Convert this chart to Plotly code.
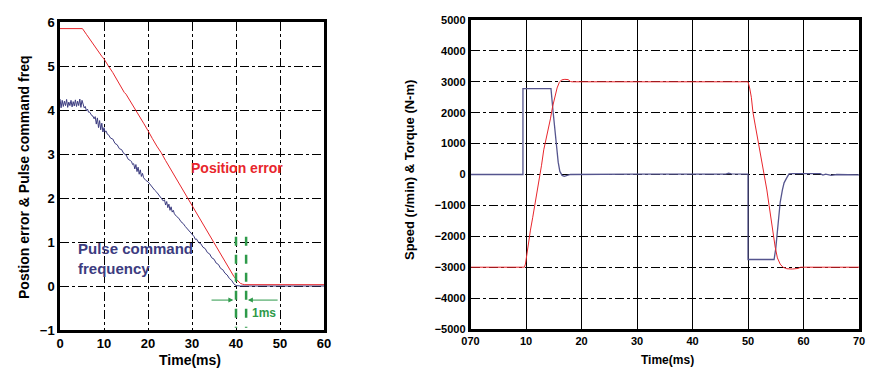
import plotly.graph_objects as go

# ---------------- Left chart data ----------------
left_x_ticks = [0, 10, 20, 30, 40, 50, 60]
left_y_ticks = [-1, 0, 1, 2, 3, 4, 5, 6]

pos_err_t = [0, 5.1, 6, 7, 8, 8.6, 9, 9.5, 10, 10.6, 11, 12, 12.5, 13, 14, 14.6, 15, 16, 17, 17.5,
             18, 19, 20, 20.4, 21, 22, 22.6, 23, 24, 25, 26, 27, 28, 29, 30, 31, 32, 33, 34, 35,
             36, 37, 38, 39, 39.5, 40, 40.5, 41, 41.5, 42, 60]
pos_err_v = [5.85, 5.85, 5.72, 5.57, 5.44, 5.36, 5.30, 5.22, 5.16, 5.05, 5.00, 4.85, 4.76, 4.67, 4.52, 4.40, 4.36, 4.20, 4.03, 3.97,
             3.86, 3.70, 3.53, 3.45, 3.35, 3.18, 3.07, 3.03, 2.85, 2.68, 2.50, 2.33, 2.16, 1.99, 1.83, 1.65, 1.48, 1.31, 1.14, 0.97,
             0.80, 0.63, 0.47, 0.30, 0.22, 0.16, 0.10, 0.06, 0.04, 0.03, 0.03]

pulse_t = [0, 0.25, 0.5, 0.75, 1.0, 1.25, 1.5, 1.75, 2.0, 2.25, 2.5, 2.75, 3.0, 3.25, 3.5, 3.75, 4.0, 4.25, 4.5, 4.75, 5.0,
           5.25, 5.5, 5.75, 6.0, 6.25, 6.5, 6.75, 7.0, 7.25, 7.5, 7.75, 8.0, 8.25, 8.5, 8.75, 9.0, 9.25, 9.5, 9.75, 10.0,
           10.25, 10.5, 10.75, 11.0, 11.5, 12.0, 12.5, 13.0, 13.5, 14.0, 14.5, 15.0, 15.5, 16.0, 16.25, 16.5, 16.75,
           17.0, 17.25, 17.5, 17.75, 18.0, 18.25, 18.5, 18.75, 19.0, 19.5, 20.0, 20.5, 21.0, 21.5, 22.0, 22.5, 23.0,
           23.5, 23.75, 24.0, 24.25, 24.5, 24.75, 25.0, 25.25, 25.5, 25.75, 26.0, 26.5, 27.0, 27.5, 28.0, 28.5, 29.0,
           29.5, 30.0, 30.25, 30.5, 30.75, 31.0, 31.5, 32.0, 32.5, 33.0, 33.5, 34.0, 34.5, 35.0, 35.5, 36.0, 36.5,
           37.0, 37.5, 38.0, 38.5, 39.0, 39.5, 40.0, 41.0, 42.0, 60]
pulse_v = [4.25, 4.05, 4.22, 4.08, 4.20, 4.10, 4.24, 4.06, 4.18, 4.10, 4.22, 4.07, 4.19, 4.09, 4.23, 4.08, 4.20, 4.10, 4.25, 4.06, 4.22,
           4.13, 4.05, 4.08, 3.98, 4.02, 3.95, 3.95, 3.90, 3.87, 3.86, 3.80, 3.85, 3.68, 3.82, 3.60, 3.76, 3.55, 3.70, 3.50, 3.60,
           3.50, 3.52, 3.45, 3.44, 3.36, 3.34, 3.24, 3.21, 3.12, 3.10, 3.01, 2.98, 2.88, 2.85, 2.83, 2.76, 2.78,
           2.66, 2.76, 2.60, 2.70, 2.54, 2.64, 2.49, 2.56, 2.46, 2.40, 2.37, 2.30, 2.25, 2.18, 2.13, 2.06, 2.01,
           1.93, 1.96, 1.84, 1.92, 1.78, 1.86, 1.72, 1.80, 1.68, 1.72, 1.64, 1.58, 1.54, 1.46, 1.42, 1.35, 1.29,
           1.22, 1.18, 1.13, 1.12, 1.06, 1.07, 0.99, 0.96, 0.88, 0.85, 0.76, 0.73, 0.64, 0.61, 0.52, 0.49, 0.40,
           0.37, 0.29, 0.25, 0.17, 0.13, 0.05, 0.01, 0.00, 0.00, 0.00]

# ---------------- Right chart data ----------------
right_x_ticks = [0, 10, 20, 30, 40, 50, 60, 70]
right_x_labels = ["070", "10", "20", "30", "40", "50", "60", "70"]
right_y_ticks = [-5000, -4000, -3000, -2000, -1000, 0, 1000, 2000, 3000, 4000, 5000]

speed_t = [0, 9.7, 9.9, 10.2, 10.5, 10.8, 11.2, 11.6, 12.0, 12.4, 12.8, 13.2, 13.6, 14.0, 14.4, 14.8, 15.2, 15.6,
           16.0, 16.4, 17.0, 17.6, 18.0, 18.3, 50.0, 50.3, 50.6, 50.9, 51.3, 51.7, 52.1, 52.5, 53.0, 53.4, 53.8,
           54.2, 54.5, 54.9, 55.3, 55.8, 56.3, 57.0, 58.0, 59.0, 59.5, 70]
speed_v = [-3000, -3000, -2900, -2500, -2100, -1800, -1400, -1000, -500, -100, 300, 800, 1100, 1500, 1800, 2200, 2500, 2800,
           2980, 3060, 3080, 3070, 3010, 3000, 3000, 2800, 2500, 2000, 1600, 1200, 800, 450, 0, -500, -1000,
           -1500, -2000, -2350, -2700, -2900, -3000, -3050, -3060, -3040, -3000, -3000]

torque_t = [0, 9.45, 9.45, 14.5, 14.9, 15.2, 15.5, 15.8, 16.1, 16.5, 16.9, 17.5, 18.0, 30.0, 46.0, 46.5, 47.0, 49.9,
            50.0, 50.0, 54.7, 55.0, 55.2, 55.4, 55.8, 56.2, 56.5, 57.0, 57.4, 58.0, 63.0, 63.5, 64.0, 65.0, 66.0, 70]
torque_v = [0, 0, 2780, 2780, 2000, 1400, 900, 400, 100, -30, -60, -30, 0, 10, 10, 40, 20, 10,
            10, -2750, -2750, -2400, -2000, -1460, -900, -500, -270, -100, 20, 30, 30, -20, 10, -30, 0, -10]

RED = "#e8262c"
NAVY = "#3c3c80"
GREEN = "#2e9a4a"
FONT = "Liberation Sans, Arial, sans-serif"

fig = go.Figure()
fig.add_trace(go.Scatter(x=pulse_t, y=pulse_v, mode="lines", line=dict(color=NAVY, width=1),
                         xaxis="x", yaxis="y", showlegend=False))
fig.add_trace(go.Scatter(x=pos_err_t, y=pos_err_v, mode="lines", line=dict(color=RED, width=1),
                         xaxis="x", yaxis="y", showlegend=False))
fig.add_trace(go.Scatter(x=torque_t, y=torque_v, mode="lines", line=dict(color="#55558e", width=1.3),
                         xaxis="x2", yaxis="y2", showlegend=False))
fig.add_trace(go.Scatter(x=speed_t, y=speed_v, mode="lines", line=dict(color=RED, width=1),
                         xaxis="x2", yaxis="y2", showlegend=False))

W, H = 889, 375
tickfont = dict(family=FONT, size=13, color="black", weight="bold")
tickfont_r = dict(family=FONT, size=11, color="black", weight="bold")
axis_common = dict(showline=True, linecolor="black", linewidth=2.5, mirror=True, automargin=False,
                   zeroline=False, ticks="", gridcolor="black", gridwidth=1)

fig.update_layout(
    width=W, height=H, margin=dict(l=0, r=0, t=0, b=0),
    paper_bgcolor="white", plot_bgcolor="white",
    xaxis=dict(domain=[60 / W, 324 / W], range=[0, 60], tickvals=left_x_ticks,
               griddash="dashdot", tickfont=tickfont, anchor="y", **axis_common),
    yaxis=dict(domain=[1 - 330 / H, 1 - 22 / H], range=[-1, 6], tickvals=left_y_ticks,
               griddash="dashdot", tickfont=tickfont, anchor="x", **axis_common),
    xaxis2=dict(domain=[470.5 / W, 859 / W], range=[0, 70], tickvals=right_x_ticks,
                ticktext=right_x_labels, griddash="solid", tickfont=tickfont_r, anchor="y2", **axis_common),
    yaxis2=dict(domain=[1 - 329 / H, 1 - 20 / H], range=[-5000, 5000], tickvals=right_y_ticks,
                griddash="dashdot", tickfont=tickfont_r, anchor="x2", **axis_common),
)

# green dashed markers (1 ms window)
for xv in [40, 42.3]:
    fig.add_shape(type="line", xref="x", yref="y", x0=xv, x1=xv, y0=1.12, y1=-0.95,
                  line=dict(color=GREEN, width=2.5, dash="dash"))

annotations = [
    dict(x=39.4, y=-0.32, ax=34.1, ay=-0.32, xref="x", yref="y", axref="x", ayref="y",
         showarrow=True, arrowhead=2, arrowsize=1, arrowwidth=1, arrowcolor=GREEN, text=""),
    dict(x=42.7, y=-0.32, ax=49.8, ay=-0.32, xref="x", yref="y", axref="x", ayref="y",
         showarrow=True, arrowhead=2, arrowsize=1, arrowwidth=1, arrowcolor=GREEN, text=""),
    dict(x=46.3, y=-0.61, xref="x", yref="y", showarrow=False, text="1ms",
         xanchor="center", yanchor="middle",
         font=dict(family=FONT, size=12, color=GREEN, weight="bold")),
    dict(x=40.3, y=2.68, xref="x", yref="y", showarrow=False, text="Position error",
         xanchor="center", yanchor="middle",
         font=dict(family=FONT, size=14, color=RED, weight="bold")),
    dict(x=3.6, y=0.63, xref="x", yref="y", showarrow=False, xanchor="left", yanchor="middle", align="left",
         text="Pulse command<br>frequency",
         font=dict(family=FONT, size=15, color=NAVY, weight="bold")),
    dict(x=190 / W, y=1 - 360 / H, xref="paper", yref="paper", showarrow=False, text="Time(ms)",
         xanchor="center", yanchor="middle",
         font=dict(family=FONT, size=14, color="black", weight="bold")),
    dict(x=667 / W, y=1 - 360 / H, xref="paper", yref="paper", showarrow=False, text="Time(ms)",
         xanchor="center", yanchor="middle",
         font=dict(family=FONT, size=12, color="black", weight="bold")),
    dict(x=24 / W, y=1 - 177 / H, xref="paper", yref="paper", showarrow=False, textangle=-90,
         xanchor="center", yanchor="middle",
         text="Postion error &amp; Pulse command freq",
         font=dict(family=FONT, size=14, color="black", weight="bold")),
    dict(x=409 / W, y=1 - 170 / H, xref="paper", yref="paper", showarrow=False, textangle=-90,
         xanchor="center", yanchor="middle",
         text="Speed (r/min) &amp; Torque (N-m)",
         font=dict(family=FONT, size=13, color="black", weight="bold")),
]
fig.update_layout(annotations=annotations)

fig.write_html("out.html")
